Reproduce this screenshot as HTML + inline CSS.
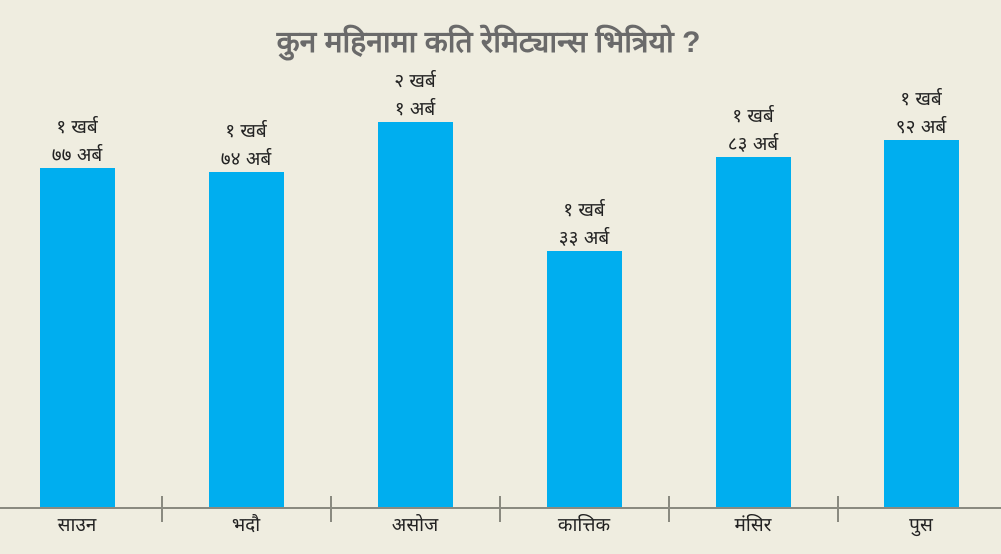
<!DOCTYPE html>
<html><head><meta charset="utf-8"><style>
body{margin:0;width:1001px;height:554px;background:#efede0;position:relative;overflow:hidden;font-family:"Liberation Sans",sans-serif;color:#222}
.t{position:absolute;left:-12px;width:1001px;top:23px;text-align:center;font-size:30px;font-weight:bold;color:#6a6a6a;line-height:40px}
.b{position:absolute;background:#00aeef;width:75px}
.v{position:absolute;width:120px;text-align:center;font-size:19px;line-height:28px}
.ax{position:absolute;left:0;width:1001px;top:507px;height:2px;background:#8a8a80}
.tk{position:absolute;top:496px;width:2px;height:26px;background:#8a8a80}
.l{position:absolute;top:512px;width:140px;text-align:center;font-size:19px;line-height:28px}
</style></head><body>
<div class="t">कुन महिनामा कति रेमिट्यान्स भित्रियो ?</div>

<div class="b" style="left:40px;top:168px;height:340px"></div>
<div class="b" style="left:209px;top:172px;height:336px"></div>
<div class="b" style="left:378px;top:122px;height:386px"></div>
<div class="b" style="left:547px;top:251px;height:257px"></div>
<div class="b" style="left:716px;top:157px;height:351px"></div>
<div class="b" style="left:884px;top:140px;height:368px"></div>

<div class="v" style="left:17px;top:114px">१ खर्ब<br>७७ अर्ब</div>
<div class="v" style="left:186px;top:118px">१ खर्ब<br>७४ अर्ब</div>
<div class="v" style="left:355px;top:68px">२ खर्ब<br>१ अर्ब</div>
<div class="v" style="left:524px;top:197px">१ खर्ब<br>३३ अर्ब</div>
<div class="v" style="left:693px;top:103px">१ खर्ब<br>८३ अर्ब</div>
<div class="v" style="left:861px;top:86px">१ खर्ब<br>९२ अर्ब</div>

<div class="ax"></div>
<div class="tk" style="left:161px"></div>
<div class="tk" style="left:330px"></div>
<div class="tk" style="left:499px"></div>
<div class="tk" style="left:668px"></div>
<div class="tk" style="left:837px"></div>

<div class="l" style="left:7px">साउन</div>
<div class="l" style="left:176px">भदौ</div>
<div class="l" style="left:345px">असोज</div>
<div class="l" style="left:514px">कात्तिक</div>
<div class="l" style="left:683px">मंसिर</div>
<div class="l" style="left:851px">पुस</div>
</body></html>
